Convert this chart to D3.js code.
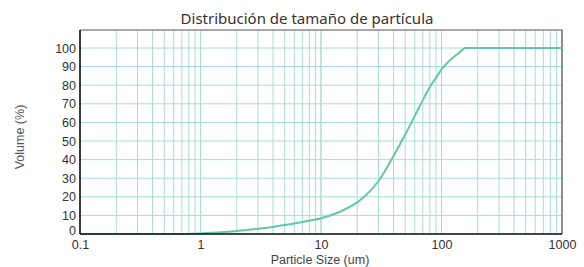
<!DOCTYPE html>
<html><head><meta charset="utf-8">
<script src="https://cdn.jsdelivr.net/npm/d3@7"></script>
<style>html,body{margin:0;padding:0;background:#fff;}svg{display:block;}</style>
</head><body>
<svg id="c" width="584" height="267"></svg>
<script>
const title = "Distribución de tamaño de partícula";
const xLabel = "Particle Size (um)";
const yLabel = "Volume (%)";
const sizes  = [0.1, 0.7, 1, 1.5, 2, 3, 4, 5, 7, 10, 15, 20, 25, 30, 40, 50, 60, 70, 80, 90, 100, 120, 140, 158, 200, 1000];
const volume = [0, 0, 0.3, 0.9, 1.6, 2.8, 3.8, 4.8, 6.5, 8.5, 12.5, 17, 22.5, 28.5, 42, 53.5, 63.5, 72, 79, 84, 88.5, 94, 97.5, 100, 100, 100];
const xTicks = [0.1, 1, 10, 100, 1000];
const yTicks = [0, 10, 20, 30, 40, 50, 60, 70, 80, 90, 100];

const svg = d3.select("#c");
const L = 80, R = 562, T = 30, B = 234;
const x = d3.scaleLog().domain([0.1, 1000]).range([L, R]);
const y = d3.scaleLinear().domain([0, 109.7]).range([B, T]);

// minor grid verticals
const minor = [];
for (let d = 0.1; d < 1000; d *= 10) for (let k = 1; k <= 10; k++) minor.push(d * k);
svg.append("g").selectAll("line").data(minor).join("line")
  .attr("x1", d => x(d)).attr("x2", d => x(d)).attr("y1", T).attr("y2", B)
  .attr("stroke", "#a9ddd5").attr("stroke-width", 1);
svg.append("g").selectAll("line").data(yTicks).join("line")
  .attr("x1", L).attr("x2", R).attr("y1", d => y(d)).attr("y2", d => y(d))
  .attr("stroke", "#a9ddd5").attr("stroke-width", 1);

// frame
svg.append("line").attr("x1", L).attr("x2", R).attr("y1", T).attr("y2", T).attr("stroke", "#555").attr("stroke-width", 1.2);
svg.append("line").attr("x1", R).attr("x2", R).attr("y1", T).attr("y2", B).attr("stroke", "#555").attr("stroke-width", 1.2);

// curve
svg.append("path").datum(sizes.map((s, i) => [s, volume[i]]))
  .attr("fill", "none").attr("stroke", "#62c9a6").attr("stroke-width", 2)
  .attr("d", d3.line().x(d => x(d[0])).y(d => y(d[1])).curve(d3.curveMonotoneX));

// axes
const xa = svg.append("g").attr("transform", `translate(0,${B})`)
  .call(d3.axisBottom(x).tickValues(xTicks).tickFormat(d3.format("~g")).tickSize(0).tickPadding(6));
const ya = svg.append("g").attr("transform", `translate(${L},0)`)
  .call(d3.axisLeft(y).tickValues(yTicks).tickSize(0).tickPadding(4));
[xa, ya].forEach(a => {
  a.select(".domain").attr("stroke", "#111").attr("stroke-width", 1.6);
  a.selectAll("text").attr("font-family", "Liberation Sans, Arial, sans-serif").attr("font-size", 12.5).attr("fill", "#333");
});
ya.selectAll(".tick").filter(d => d === 0).select("text").attr("dy", "0.05em");
ya.select(".domain").attr("d", `M0,${T}V${B}`);
xa.select(".domain").attr("d", `M${L},0H${R}`);

svg.append("text").attr("x", 307).attr("y", 24).attr("text-anchor", "middle")
  .attr("font-family", "Noto Sans, sans-serif").attr("font-size", 15).attr("fill", "#333").text(title);
svg.append("text").attr("transform", "translate(24,137) rotate(-90)").attr("text-anchor", "middle")
  .attr("font-family", "Liberation Sans, Arial, sans-serif").attr("font-size", 12.5).attr("fill", "#555").text(yLabel);
svg.append("text").attr("x", 320).attr("y", 264).attr("text-anchor", "middle")
  .attr("font-family", "Liberation Sans, Arial, sans-serif").attr("font-size", 12.5).attr("fill", "#444").text(xLabel);
</script>
</body></html>
